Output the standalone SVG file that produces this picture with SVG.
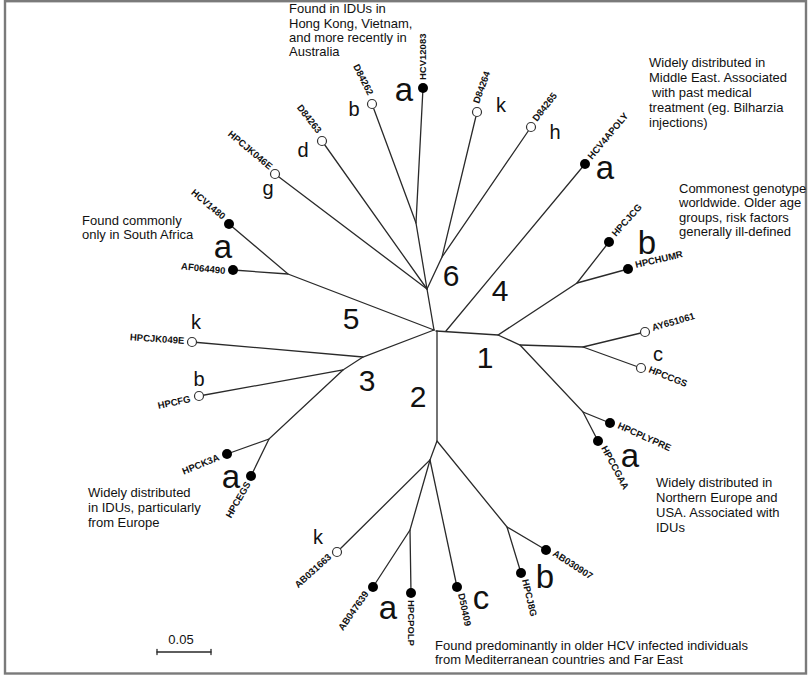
<svg xmlns="http://www.w3.org/2000/svg" width="812" height="677" viewBox="0 0 812 677">
<style>
.br{stroke:#2a2a2a;stroke-width:1.3;fill:none;stroke-linecap:round}
.dot{fill:#000}
.oc{fill:#fff;stroke:#333;stroke-width:1.2}
.lb{font-family:"Liberation Sans",Arial,sans-serif;font-size:9.5px;font-weight:bold;fill:#111}
.sl{font-family:"Liberation Sans",Arial,sans-serif;font-size:20px;fill:#111;text-anchor:middle}
.ll{font-family:"Liberation Sans",Arial,sans-serif;font-size:33px;fill:#111;text-anchor:middle}
.num{font-family:"Liberation Sans",Arial,sans-serif;font-size:30px;fill:#111;text-anchor:middle}
.note{font-family:"Liberation Sans",Arial,sans-serif;font-size:13px;fill:#111}
</style>
<rect x="0" y="0" width="812" height="677" fill="#fff"/>
<rect x="5" y="1.2" width="801" height="672.3" fill="none" stroke="#7a7a7a" stroke-width="2.4"/>

<g id="connectors" class="br">
<!-- genotype 6 -->
<polyline points="434,330 427,289 416,223 423,88"/>
<line x1="416" y1="223" x2="372" y2="104"/>
<line x1="427" y1="289" x2="322" y2="141"/>
<line x1="427" y1="289" x2="275" y2="174"/>
<polyline points="427,289 442,257 477,112"/>
<line x1="442" y1="257" x2="531" y2="127"/>
<!-- genotype 4 -->
<line x1="446" y1="331" x2="585" y2="164"/>
<!-- genotype 1 -->
<polyline points="436,331 498,335 577,283 609,242"/>
<line x1="577" y1="283" x2="628" y2="269"/>
<polyline points="498,335 520,345 583,347 645,332"/>
<line x1="583" y1="347" x2="641" y2="368"/>
<polyline points="520,345 583,412 610,423"/>
<line x1="583" y1="412" x2="598" y2="441"/>
<!-- genotype 2 -->
<polyline points="437,331 437,441 507,527 546,550"/>
<line x1="507" y1="527" x2="521" y2="573"/>
<polyline points="437,441 430,460 337,552"/>
<polyline points="430,460 410,530 373,587"/>
<line x1="410" y1="530" x2="411" y2="593"/>
<line x1="430" y1="460" x2="457" y2="587"/>
<!-- genotype 3 -->
<polyline points="434,330 363,357 192,342"/>
<polyline points="363,357 343,370 199,396"/>
<polyline points="343,370 269,439 227,454"/>
<line x1="269" y1="439" x2="251" y2="476"/>
<!-- genotype 5 -->
<polyline points="434,330 288,274 229,224"/>
<line x1="288" y1="274" x2="233" y2="270"/>
<!-- scale bar -->
<line x1="157" y1="652" x2="211" y2="652"/>
<line x1="157" y1="649.5" x2="157" y2="654.5"/>
<line x1="211" y1="649.5" x2="211" y2="654.5"/>
</g>

<g id="clade-numbers">
<text class="num" x="451" y="286">6</text>
<text class="num" x="500" y="301">4</text>
<text class="num" x="351" y="329">5</text>
<text class="num" x="485" y="368">1</text>
<text class="num" x="367" y="391">3</text>
<text class="num" x="418" y="407">2</text>
</g>

<!-- genotype 6 leaves -->
<g id="HCV12083"><circle class="dot" cx="423" cy="88" r="5"/><text class="lb" transform="translate(426,80) rotate(-90)">HCV12083</text><text class="ll" x="404" y="101">a</text></g>
<g id="D84262"><circle class="oc" cx="372" cy="104" r="4.5"/><text class="lb" text-anchor="end" transform="translate(368,96) rotate(63)">D84262</text><text class="sl" x="354" y="116">b</text></g>
<g id="D84263"><circle class="oc" cx="322" cy="141" r="4.5"/><text class="lb" text-anchor="end" transform="translate(317,134) rotate(52)">D84263</text><text class="sl" x="303" y="157">d</text></g>
<g id="HPCJK046E"><circle class="oc" cx="275" cy="174" r="4.5"/><text class="lb" text-anchor="end" transform="translate(269,170) rotate(40)">HPCJK046E</text><text class="sl" x="268" y="195">g</text></g>
<g id="D84264"><circle class="oc" cx="477" cy="112" r="4.5"/><text class="lb" transform="translate(479,104) rotate(-70)">D84264</text><text class="sl" x="501" y="112">k</text></g>
<g id="D84265"><circle class="oc" cx="531" cy="127" r="4.5"/><text class="lb" transform="translate(537,122) rotate(-52)">D84265</text><text class="sl" x="555" y="139">h</text></g>

<!-- genotype 4 -->
<g id="HCV4APOLY"><circle class="dot" cx="585" cy="164" r="5"/><text class="lb" transform="translate(592,160) rotate(-50)">HCV4APOLY</text><text class="ll" x="605" y="179">a</text></g>

<!-- genotype 1 -->
<g id="HPCJCG"><circle class="dot" cx="609" cy="242" r="5"/><text class="lb" transform="translate(616,237) rotate(-48)">HPCJCG</text><text class="ll" x="647" y="254">b</text></g>
<g id="HPCHUMR"><circle class="dot" cx="628" cy="269" r="5"/><text class="lb" transform="translate(636,268) rotate(-13)">HPCHUMR</text></g>
<g id="AY651061"><circle class="oc" cx="645" cy="332" r="4.5"/><text class="lb" transform="translate(653,331) rotate(-16)">AY651061</text><text class="sl" x="658" y="361">c</text></g>
<g id="HPCCGS"><circle class="oc" cx="641" cy="368" r="4.5"/><text class="lb" transform="translate(648,372) rotate(22)">HPCCGS</text></g>
<g id="HPCPLYPRE"><circle class="dot" cx="610" cy="423" r="5"/><text class="lb" transform="translate(617,428) rotate(24)">HPCPLYPRE</text><text class="ll" x="630" y="467">a</text></g>
<g id="HPCCGAA"><circle class="dot" cx="598" cy="441" r="5"/><text class="lb" transform="translate(601,448) rotate(62)">HPCCGAA</text></g>

<!-- genotype 2 -->
<g id="AB030907"><circle class="dot" cx="546" cy="550" r="5"/><text class="lb" transform="translate(552,555) rotate(33)">AB030907</text><text class="ll" x="545" y="588">b</text></g>
<g id="HPCJ8G"><circle class="dot" cx="521" cy="573" r="5"/><text class="lb" transform="translate(522,580) rotate(77)">HPCJ8G</text></g>
<g id="D50409"><circle class="dot" cx="457" cy="587" r="5"/><text class="lb" transform="translate(458,594) rotate(78)">D50409</text><text class="ll" x="481" y="609">c</text></g>
<g id="HPCPOLP"><circle class="dot" cx="411" cy="593" r="5"/><text class="lb" transform="translate(408,600) rotate(90)">HPCPOLP</text></g>
<g id="AB047639"><circle class="dot" cx="373" cy="587" r="5"/><text class="lb" text-anchor="end" transform="translate(369,594) rotate(-55)">AB047639</text><text class="ll" x="388" y="619">a</text></g>
<g id="AB031663"><circle class="oc" cx="337" cy="552" r="4.5"/><text class="lb" text-anchor="end" transform="translate(332,558) rotate(-42)">AB031663</text><text class="sl" x="318" y="544">k</text></g>

<!-- genotype 3 -->
<g id="HPCEGS"><circle class="dot" cx="251" cy="476" r="5"/><text class="lb" text-anchor="end" transform="translate(251,484) rotate(-60)">HPCEGS</text></g>
<g id="HPCK3A"><circle class="dot" cx="227" cy="454" r="5"/><text class="lb" text-anchor="end" transform="translate(220,460) rotate(-22)">HPCK3A</text><text class="ll" x="231" y="488">a</text></g>
<g id="HPCFG"><circle class="oc" cx="199" cy="396" r="4.5"/><text class="lb" text-anchor="end" transform="translate(191,402) rotate(-12)">HPCFG</text><text class="sl" x="199" y="386">b</text></g>
<g id="HPCJK049E"><circle class="oc" cx="192" cy="342" r="4.5"/><text class="lb" text-anchor="end" transform="translate(184,344) rotate(4)">HPCJK049E</text><text class="sl" x="196" y="329">k</text></g>

<!-- genotype 5 -->
<g id="AF064490"><circle class="dot" cx="233" cy="270" r="5"/><text class="lb" text-anchor="end" transform="translate(225,274) rotate(6)">AF064490</text></g>
<g id="HCV1480"><circle class="dot" cx="229" cy="224" r="5"/><text class="lb" text-anchor="end" transform="translate(222,220) rotate(40)">HCV1480</text><text class="ll" x="223" y="258">a</text></g>

<!-- annotations -->
<g id="note-6"><text class="note" x="289" y="13">Found in IDUs in</text><text class="note" x="289" y="27.5">Hong Kong, Vietnam,</text><text class="note" x="289" y="42">and more recently in</text><text class="note" x="289" y="56">Australia</text></g>
<g id="note-4"><text class="note" x="649" y="67">Widely distributed in</text><text class="note" x="649" y="82">Middle East. Associated</text><text class="note" x="652" y="97">with past medical</text><text class="note" x="649" y="112">treatment (eg. Bilharzia</text><text class="note" x="649" y="127">injections)</text></g>
<g id="note-1b"><text class="note" x="679" y="193">Commonest genotype</text><text class="note" x="679" y="207">worldwide. Older age</text><text class="note" x="679" y="222">groups, risk factors</text><text class="note" x="679" y="236">generally ill-defined</text></g>
<g id="note-5"><text class="note" x="82" y="225">Found commonly</text><text class="note" x="82" y="239">only in South Africa</text></g>
<g id="note-3"><text class="note" x="88" y="497">Widely distributed</text><text class="note" x="88" y="512">in IDUs, particularly</text><text class="note" x="88" y="527">from Europe</text></g>
<g id="note-1a"><text class="note" x="656" y="487">Widely distributed in</text><text class="note" x="656" y="502">Northern Europe and</text><text class="note" x="656" y="517">USA. Associated with</text><text class="note" x="656" y="532">IDUs</text></g>
<g id="note-2"><text class="note" x="435" y="650">Found predominantly in older HCV infected individuals</text><text class="note" x="435" y="664">from Mediterranean countries and Far East</text></g>
<g id="scale"><text class="note" x="181" y="644" text-anchor="middle" font-size="15">0.05</text></g>
</svg>
